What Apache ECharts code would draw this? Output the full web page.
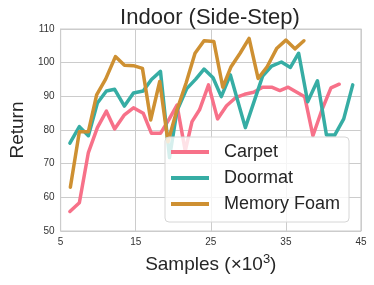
<!DOCTYPE html>
<html>
<head>
<meta charset="utf-8">
<script src="https://cdn.jsdelivr.net/npm/echarts@6/dist/echarts.min.js"></script>
<style>
html,body{margin:0;padding:0;background:#fff;}
#c{width:374px;height:285px;}
</style>
</head>
<body>
<div id="c"></div>
<script>
var title = 'Indoor (Side-Step)';
var seriesNames = ['Carpet', 'Doormat', 'Memory Foam'];
var xTicks = [5, 15, 25, 35, 45];
var yTicks = [50, 60, 70, 80, 90, 100, 110];

var carpetX = [6.24, 7.5, 8.7, 9.9, 11.1, 12.2, 13.5, 14.7, 16.0, 17.1, 18.3, 19.4, 20.5, 21.6, 22.5, 23.5, 24.7, 25.9, 27.1, 28.3, 29.5, 30.7, 31.9, 33.1, 34.2, 35.3, 36.4, 37.5, 38.6, 39.8, 41.0, 42.1];
var carpetY = [55.8, 58.4, 73.3, 80.7, 85.6, 80.3, 84.5, 86.6, 85.0, 79.0, 79.0, 83.0, 87.4, 73.8, 82.5, 86.0, 93.4, 83.3, 87.2, 89.6, 90.6, 91.2, 92.7, 92.7, 91.7, 92.7, 91.3, 89.9, 78.3, 86.0, 92.5, 93.6];

var doormatX = [6.24, 7.5, 8.7, 9.9, 11.1, 12.2, 13.5, 14.7, 16.0, 17.1, 18.3, 19.5, 20.5, 21.8, 23.0, 24.1, 25.3, 26.4, 27.6, 29.6, 31.9, 33.1, 34.4, 35.6, 36.7, 37.9, 39.2, 40.4, 41.5, 42.7, 43.9];
var doormatY = [76.1, 81.0, 78.3, 88.0, 91.6, 92.1, 87.1, 91.0, 91.6, 95.0, 97.4, 71.8, 85.7, 92.3, 95.1, 98.1, 95.5, 89.9, 96.4, 80.7, 96.0, 99.0, 100.2, 98.6, 102.8, 88.4, 94.6, 78.5, 78.5, 83.3, 93.4];

var foamX = [6.3, 7.5, 8.7, 9.8, 11.0, 12.3, 13.5, 14.7, 15.9, 17.0, 18.2, 19.3, 20.5, 21.7, 22.9, 24.1, 25.4, 26.6, 27.7, 28.9, 30.1, 31.3, 32.5, 33.8, 35.0, 36.2, 37.4];
var foamY = [63.0, 79.5, 79.5, 90.4, 95.1, 101.8, 99.2, 99.1, 98.3, 83.0, 94.4, 76.5, 86.0, 93.9, 102.8, 106.5, 106.3, 92.7, 98.8, 102.8, 107.2, 95.3, 98.8, 104.3, 106.7, 104.1, 106.5];

var colors = ['#f77189', '#36ada4', '#ce9032'];
var FONT = "'Liberation Sans', Arial, sans-serif";

function pairs(xs, ys) {
  var out = [];
  for (var i = 0; i < xs.length; i++) out.push([xs[i], ys[i]]);
  return out;
}

var allX = [carpetX, doormatX, foamX];
var allY = [carpetY, doormatY, foamY];

var series = seriesNames.map(function (name, k) {
  return {
    name: name,
    type: 'line',
    data: pairs(allX[k], allY[k]),
    symbol: 'none',
    showSymbol: false,
    lineStyle: { color: colors[k], width: 3.5, join: 'round', cap: 'round' },
    itemStyle: { color: colors[k] },
    z: 2 + k,
    animation: false
  };
});

var chart = echarts.init(document.getElementById('c'), null, { renderer: 'canvas' });
chart.setOption({
  animation: false,
  backgroundColor: '#ffffff',
  color: colors,
  title: {
    text: title,
    left: 205,
    textAlign: 'center',
    top: 2,
    textStyle: { fontFamily: FONT, fontSize: 22, fontWeight: 'normal', color: '#262626' }
  },
  grid: {
    left: 49, right: 13, top: 29, bottom: 54,
    show: true, borderColor: '#cccccc', borderWidth: 1.2, backgroundColor: 'transparent'
  },
  legend: {
    orient: 'vertical',
    left: 165,
    top: 137,
    itemWidth: 38,
    itemHeight: 14,
    itemGap: 6,
    padding: [5, 9, 8, 6],
    backgroundColor: 'rgba(255,255,255,0.8)',
    borderColor: '#d6d6d6',
    borderWidth: 1,
    borderRadius: 4,
    z: 10,
    data: seriesNames.map(function (n, k) {
      return { name: n, icon: 'path://M0,0 L38,0 L38,4 L0,4 Z', itemStyle: { color: colors[k] } };
    }),
    textStyle: { fontFamily: FONT, fontSize: 18, color: '#262626', lineHeight: 20, padding: [0, 0, 0, 10] }
  },
  xAxis: {
    type: 'value',
    min: xTicks[0], max: xTicks[xTicks.length - 1], interval: 10,
    name: 'Samples (×10{sup|3})',
    nameLocation: 'middle',
    nameGap: 22,
    nameTextStyle: {
      fontFamily: FONT, fontSize: 19, color: '#262626',
      rich: { sup: { fontFamily: FONT, fontSize: 13, color: '#262626', verticalAlign: 'top', padding: [0, 0, 10, 0] } }
    },
    axisLine: { show: false },
    axisTick: { show: false },
    axisLabel: { fontFamily: FONT, fontSize: 10, color: '#333333', margin: 6 },
    splitLine: { show: true, lineStyle: { color: '#cccccc', width: 1 } }
  },
  yAxis: {
    type: 'value',
    min: yTicks[0], max: yTicks[yTicks.length - 1], interval: 10,
    name: 'Return',
    nameLocation: 'middle',
    nameRotate: 90,
    nameGap: 26,
    nameTextStyle: { fontFamily: FONT, fontSize: 19, color: '#262626' },
    axisLine: { show: false },
    axisTick: { show: false },
    axisLabel: { fontFamily: FONT, fontSize: 10, color: '#333333', margin: 6 },
    splitLine: { show: true, lineStyle: { color: '#cccccc', width: 1 } }
  },
  series: series
});
</script>
</body>
</html>
